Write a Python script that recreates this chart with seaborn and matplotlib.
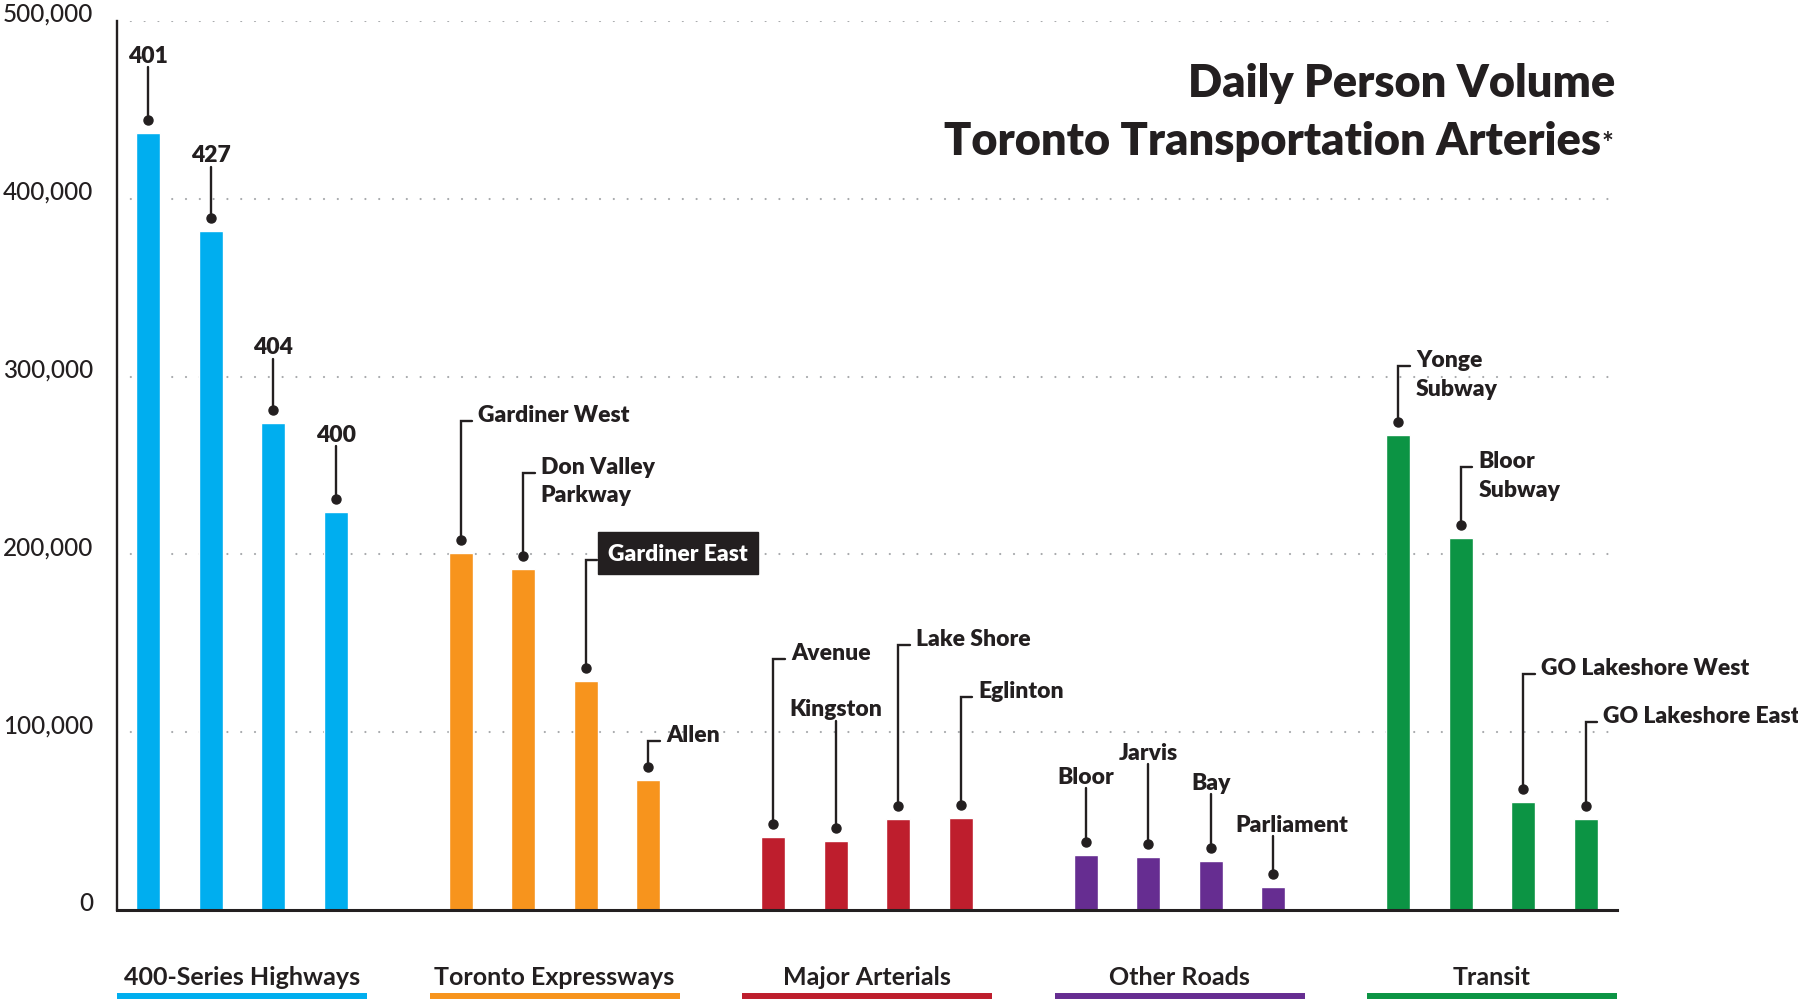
import matplotlib
matplotlib.use("Agg")
import matplotlib.pyplot as plt
import seaborn as sns
import pandas as pd
import numpy as np

# data (daily person volume)
groups = ["400-Series Highways", "Toronto Expressways", "Major Arterials", "Other Roads", "Transit"]
group_colors = ["#00aeef", "#f7941d", "#be1e2d", "#662d91", "#0c9444"]

highways = ["401", "427", "404", "400"]
highway_vol = [437000, 382000, 274000, 224000]
expressways = ["Gardiner West", "Don Valley Parkway", "Gardiner East", "Allen"]
expressway_vol = [201000, 192000, 129000, 73000]
arterials = ["Avenue", "Kingston", "Lake Shore", "Eglinton"]
arterial_vol = [41000, 39000, 51000, 51500]
other_roads = ["Bloor", "Jarvis", "Bay", "Parliament"]
other_vol = [31000, 30000, 27500, 13000]
transit = ["Yonge Subway", "Bloor Subway", "GO Lakeshore West", "GO Lakeshore East"]
transit_vol = [267000, 209000, 61000, 51000]

y_ticks = [0, 100000, 200000, 300000, 400000, 500000]

# label layout: style ("top" = centred above leader, "side" = elbow to the right) and leader height
label_style = {
    "401": ("top", 474000), "427": ("top", 418000), "404": ("top", 310000), "400": ("top", 261000),
    "Gardiner West": ("side", 275000), "Don Valley Parkway": ("side", 246000),
    "Gardiner East": ("box", 197000), "Allen": ("side", 95000),
    "Avenue": ("side", 141000), "Kingston": ("top", 106500),
    "Lake Shore": ("side", 149000), "Eglinton": ("side", 120000),
    "Bloor": ("top", 68500), "Jarvis": ("top", 82000), "Bay": ("top", 65000), "Parliament": ("top", 41500),
    "Yonge Subway": ("side", 306000), "Bloor Subway": ("side", 249000),
    "GO Lakeshore West": ("side", 133000), "GO Lakeshore East": ("side", 106000),
}
display_text = {"Don Valley Parkway": ["Don Valley", "Parkway"], "Yonge Subway": ["Yonge", "Subway"],
                "Bloor Subway": ["Bloor", "Subway"]}

names = highways + expressways + arterials + other_roads + transit
vols = highway_vol + expressway_vol + arterial_vol + other_vol + transit_vol
grp = sum([[g] * 4 for g in groups], [])
df = pd.DataFrame({"route": names, "volume": vols, "group": grp})

# category order with an empty slot between groups
order = []
for i, members in enumerate([highways, expressways, arterials, other_roads, transit]):
    order += members
    if i < 4:
        order.append(f"gap{i}")

dark = "#231f20"
sns.set_style("white")
plt.rcParams["font.family"] = ["Lato", "DejaVu Sans"]
label_kw = dict(fontsize=16.5, fontweight="heavy", color=dark)

fig = plt.figure(figsize=(17.98, 10.04), dpi=100)
ax = fig.add_axes([0.0651, 0.0926, 0.8343, 0.8855])

# dotted grid
for v in y_ticks[1:]:
    ax.axhline(v, color="#a7a9ac", lw=1.6, ls=(0, (0.01, 6.2)), dash_capstyle="round", zorder=0)

sns.barplot(data=df, x="route", y="volume", hue="group", order=order, hue_order=groups,
            palette=group_colors, dodge=False, width=0.38, saturation=1, legend=False, ax=ax, zorder=2)

ax.set_xlim(-0.5, 23.5)
ax.set_ylim(0, 500000)
ax.set_xlabel("")
ax.set_ylabel("")
ax.set_xticks(np.arange(0.5, 23, 1), labels=[""] * 23)
ax.tick_params(axis="x", direction="in", length=6, width=1.6, color=dark)
ax.set_yticks(y_ticks, labels=[f"{v:,}" for v in y_ticks])
ax.tick_params(axis="y", length=0, pad=17, labelsize=17.5, labelcolor=dark)
for t in ax.get_yticklabels():
    t.set_va("baseline")
    t.set_fontweight("medium")
for s in ["top", "right"]:
    ax.spines[s].set_visible(False)
ax.spines["left"].set_color(dark)
ax.spines["left"].set_linewidth(1.7)
ax.spines["bottom"].set_color(dark)
ax.spines["bottom"].set_linewidth(2.2)

# leader lines and labels
for name, vol in zip(names, vols):
    x = order.index(name)
    style, h = label_style[name]
    dot_y = vol + 7300
    ax.plot([x], [dot_y], "o", color=dark, ms=6.5, zorder=4)
    if style == "top":
        ax.plot([x, x], [dot_y, h], color=dark, lw=1.7, zorder=3)
        dx = 0.3 if name == "Parliament" else 0
        ax.text(x + dx, h + 3000, name, ha="center", va="baseline", **label_kw)
        continue
    ax.plot([x, x, x + 0.18], [dot_y, h, h], color=dark, lw=1.7, zorder=3,
            solid_joinstyle="miter", clip_on=False)
    if style == "box":
        ax.text(x + 0.36, h, name, ha="left", va="baseline", fontsize=16.5, fontweight="heavy",
                color="white", bbox=dict(boxstyle="square,pad=0.45", fc=dark, ec=dark))
    else:
        for k, line in enumerate(display_text.get(name, [name])):
            ax.text(x + 0.28, h - k * 16150, line, ha="left", va="baseline", clip_on=False, **label_kw)

# group labels with coloured underline
for i, (g, c) in enumerate(zip(groups, group_colors)):
    ax.text(5 * i + 1.5, -41700, g, ha="center", va="baseline", fontsize=18, fontweight="bold",
            color=dark, clip_on=False)
    ax.plot([5 * i - 0.5, 5 * i + 3.5], [-48500, -48500], color=c, lw=4.3, solid_capstyle="butt",
            clip_on=False)

# title
ax.text(23.47, 457700, "Daily Person Volume", ha="right", va="baseline", fontsize=32.5,
        fontweight="heavy", color=dark)
t2 = ax.text(23.25, 425000, "Toronto Transportation Arteries", ha="right", va="baseline",
             fontsize=32.5, fontweight="heavy", color=dark)
ax.annotate("*", xy=(1, 0.12), xycoords=t2, ha="left", va="bottom", fontsize=20,
            fontweight="bold", color=dark)

fig.savefig("out.png", dpi=100)
